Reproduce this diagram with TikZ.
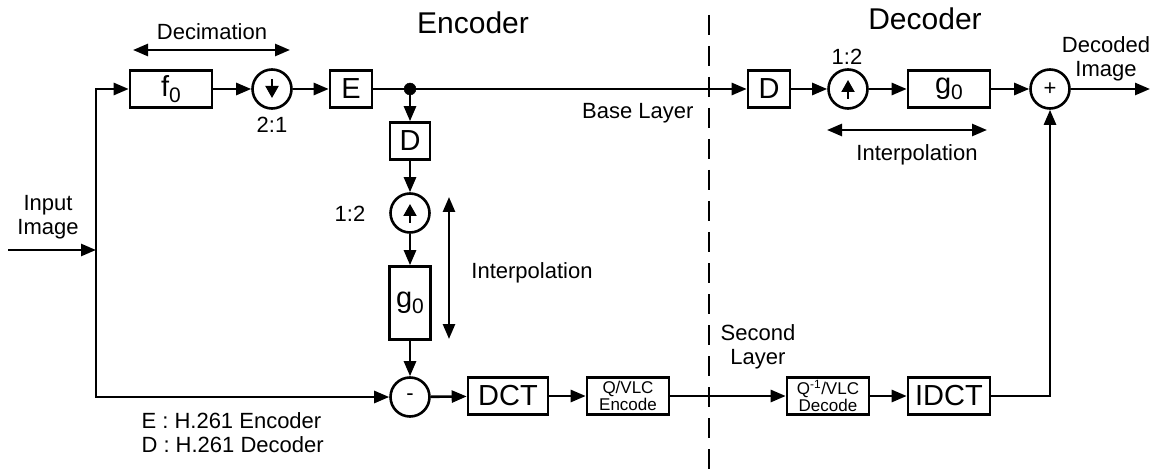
\documentclass[tikz,border=0pt]{standalone}
\usepackage{fontspec}
\setmainfont{Liberation Sans}
\usetikzlibrary{arrows.meta}
\newcommand{\sub}[1]{\raisebox{-0.35ex}{\fontsize{21}{21}\selectfont #1}}
\tikzset{
  >={Triangle[length=15pt,width=12pt]},
  wire/.style={line width=2.6pt},
  blk/.style={draw,line width=2.6pt,minimum height=37pt,inner sep=0pt,font=\fontsize{29}{30}\selectfont},
  smallblk/.style={blk,align=center,font=\fontsize{17}{17}\selectfont},
  op/.style={draw,circle,line width=2.6pt,minimum size=39pt,inner sep=0pt,font=\fontsize{22}{22}\selectfont},
  lbl/.style={font=\fontsize{22}{24}\selectfont,align=center},
  title/.style={font=\fontsize{30}{32}\selectfont},
  tri/.style={line width=2pt,-{Triangle[length=12pt,width=13pt]}}
}
\begin{document}
\begin{tikzpicture}[x=1pt,y=-1pt]
\useasboundingbox (0,0) rectangle (1150,470);
% top row
\node[blk,minimum width=82pt] (f0) at (171,89) {f\sub{0}};
\node[op] (down) at (272,89) {};
\node[blk,minimum width=42pt] (E) at (351,89) {E};
\coordinate (split) at (410,89);
\node[blk,minimum width=42pt] (Ddec) at (769,89) {D};
\node[op] (updec) at (848,89) {};
\node[blk,minimum width=82pt] (g0dec) at (949,89) {g\sub{0}};
\node[op] (plus) at (1050,89) {+};
\coordinate (out) at (1150,89);
% encoder loop
\node[blk,minimum width=40pt] (Denc) at (410,141) {D};
\node[op] (upenc) at (410,213) {};
\node[blk,minimum width=41pt,minimum height=73pt] (g0enc) at (410,303) {g\sub{0}};
\node[op] (minus) at (410,397) {-};
% second layer
\node[blk,minimum width=80pt] (dct) at (508,396) {DCT};
\node[smallblk,minimum width=82pt] (qenc) at (628,396) {Q/VLC\\Encode};
\node[smallblk,minimum width=82pt] (qdec) at (828,396) {Q\textsuperscript{-1}/VLC\\Decode};
\node[blk,minimum width=82pt] (idct) at (949,396) {IDCT};
\coordinate (in) at (8,250);
\coordinate (tap) at (96,250);

\draw[wire,->] (in) -- (tap);
\draw[wire,->] (tap) |- (f0);
\draw[wire,->] (tap) |- (minus);
\draw[wire,->] (f0) -- (down);
\draw[wire,->] (down) -- (E);
\draw[wire] (E) -- (split);
\draw[wire,->] (split) -- (Ddec);
\filldraw (split) circle (6pt);
\draw[wire,->] (split) -- (Denc);
\draw[wire,->] (Denc) -- (upenc);
\draw[wire,->] (upenc) -- (g0enc);
\draw[wire,->] (g0enc) -- (minus);
\draw[wire,->] (minus) -- (dct);
\draw[wire,->] (dct) -- (qenc);
\draw[wire,->] (qenc) -- (qdec);
\draw[wire,->] (qdec) -- (idct);
\draw[wire,->] (idct) -| (plus);
\draw[wire,->] (Ddec) -- (updec);
\draw[wire,->] (updec) -- (g0dec);
\draw[wire,->] (g0dec) -- (plus);
\draw[wire,->] (plus) -- (out);
% arrows inside the samplers
\draw[tri] ([yshift=10pt]down.center) -- ([yshift=-9pt]down.center);
\foreach \s in {upenc,updec}
  \draw[tri] ([yshift=-10pt]\s.center) -- ([yshift=9pt]\s.center);

\draw[line width=2.2pt,dash pattern=on 20pt off 11pt] (709,15) -- (709,470);

\node[title] (enct) at (473,23) {Encoder};
\node[title] (dect) at (925,19) {Decoder};
\node[lbl] (decim) at (212,32) {Decimation};
\draw[wire,<->] (133,50) -- (290,50);
\node[lbl] (r21) at (272,125) {2:1};
\node[lbl] (r12e) at (350,214) {1:2};
\node[lbl] (r12d) at (847,57) {1:2};
\node[lbl,anchor=east] (base) at (697,113) {Base Layer};
\draw[wire,<->] (449,197) -- (449,339);
\node[lbl] (intenc) at (532,273) {Interpolation};
\draw[wire,<->] (827,130) -- (987,130);
\node[lbl] (intdec) at (917,155) {Interpolation};
\node[lbl] (input) at (48,217) {Input\\Image};
\node[lbl] (decod) at (1106,59) {Decoded\\Image};
\node[lbl] (second) at (758,347) {Second\\Layer};
\node[lbl,align=left,anchor=west] (legend) at (138,433) {E : H.261 Encoder\\D : H.261 Decoder};
\end{tikzpicture}
\end{document}
